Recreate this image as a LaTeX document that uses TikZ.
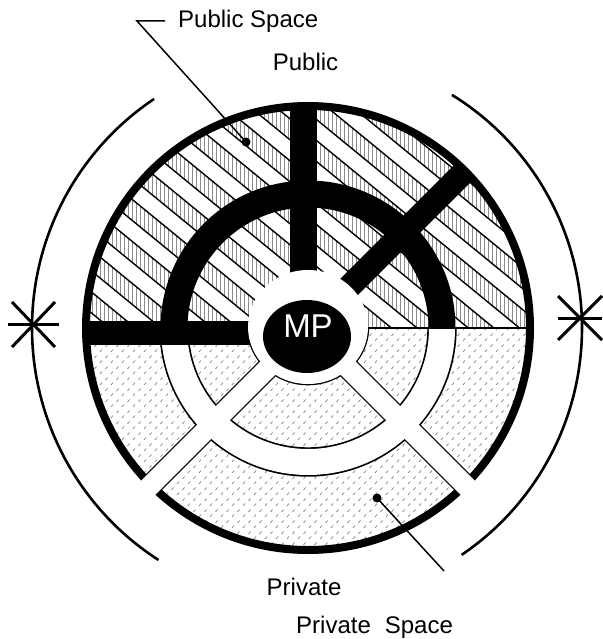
\documentclass[tikz,border=0pt]{standalone}
\usepackage{fontspec}
\setmainfont{Liberation Sans}
\usetikzlibrary{patterns}
\pgfdeclarepatternformonly{stipple}{\pgfpoint{-1pt}{-1pt}}{\pgfpoint{12pt}{12pt}}{\pgfpoint{11pt}{11pt}}{%
  \pgfsetlinewidth{0.7pt}%
  \pgfpathmoveto{\pgfpoint{1pt}{1pt}}\pgfpathlineto{\pgfpoint{3pt}{3.5pt}}%
  \pgfpathmoveto{\pgfpoint{6.5pt}{6pt}}\pgfpathlineto{\pgfpoint{8.5pt}{8.5pt}}%
  \pgfusepath{stroke}}
\begin{document}
\begin{tikzpicture}[x=1pt,y=-1pt,
  vhatch/.style={black!45,line width=0.6pt},
  bandline/.style={black,line width=1.4pt},
  thinarc/.style={black,line width=2.6pt},
  starline/.style={black,line width=3pt},
  leader/.style={black,line width=1.5pt},
  lbl/.style={inner sep=0pt,font=\fontsize{24pt}{28pt}\selectfont},
  mplbl/.style={inner sep=0pt,text=white,font=\fontsize{33pt}{36pt}\selectfont}]
\useasboundingbox (0,0) rectangle (602,639);
\coordinate (C) at (308,328);

% lower half stipple (private)
\begin{scope}
  \clip (70,328) rectangle (550,570);
  \fill[pattern=stipple,pattern color=black!50] (C) circle[radius=222];
\end{scope}

% upper half hatching (public)
\begin{scope}
  \clip (70,90) rectangle (550,328);
  \clip (C) circle[radius=222];
  \foreach \x in {84,88,...,532} \draw[vhatch] (\x,100) -- (\x,330);
  \foreach \c in {-392,-350,...,300}
    \fill[white] (70,{70*0.82+\c}) -- (550,{550*0.82+\c}) -- (550,{550*0.82+\c+21}) -- (70,{70*0.82+\c+21}) -- cycle;
  \foreach \c in {-392,-371,...,300}
    \draw[bandline] (70,{70*0.82+\c}) -- (550,{550*0.82+\c});
\end{scope}

% lower roads: black outlines
\begin{scope}
  \clip (70,328) rectangle (550,570);
  \clip (C) circle[radius=219];
  \draw[line width=29.4pt] (C) ++(0:134) arc[start angle=0,end angle=180,radius=134];
  \draw[line width=22.4pt] (C) -- ++(45:240);
  \draw[line width=22.4pt] (C) -- ++(135:240);
  \fill (308,327) ellipse[x radius=61.3,y radius=58.3];
\end{scope}

% rim
\draw[line width=8pt] (C) circle[radius=222];

% lower roads: white
\begin{scope}
  \clip (70,328) rectangle (550,580);
  \draw[white,line width=26pt] (C) ++(0:134) arc[start angle=0,end angle=180,radius=134];
  \draw[white,line width=20pt] (C) -- ++(45:240);
  \draw[white,line width=20pt] (C) -- ++(135:240);
\end{scope}

% upper black roads
\begin{scope}
  \clip (C) circle[radius=222];
  \fill (290,100) rectangle (317,330);
  \draw[line width=24pt] (C) -- ++(-45:240);
  \fill (80,321) rectangle (300,345);
  \draw[line width=27pt] (C) ++(180:134) arc[start angle=180,end angle=360,radius=134];
\end{scope}

% boundary line public/private on the right
\coordinate (hl1) at (365,328);
\coordinate (hl2) at (528,328);
\draw[line width=1.5pt] (hl1) -- (hl2);

% MP
\fill[white] (308,327) ellipse[x radius=60,y radius=57];
\fill (307,336.5) ellipse[x radius=44,y radius=36.5];
\node[mplbl] (mp) at (308,326) {MP};

% outer arcs
\draw[thinarc] (C) ++(122.8:276) arc[start angle=122.8,end angle=236.1,radius=276];
\draw[thinarc] (C) ++(-58.3:274) arc[start angle=-58.3,end angle=55.9,radius=274];

% asterisks
\draw[starline] (8,324) -- (59,324);
\draw[starline] (12,302) -- (55,347);
\draw[starline] (12,347) -- (55,302);
\draw[starline] (558,318) -- (602,318);
\draw[starline] (558,296) -- (602,340);
\draw[starline] (558,340) -- (602,296);

% labels
\node[lbl,anchor=base west] (ps) at (178,28) {Public Space};
\node[lbl,anchor=base] (pub) at (305.5,71) {Public};
\node[lbl,anchor=base west] (pri) at (266.5,595) {Private};
\node[lbl,anchor=base west] (prs) at (296,633) {Private\hspace{14pt}Space};

% leaders
\coordinate (pe) at (165,21);
\coordinate (pk) at (137,21);
\coordinate (pd) at (246,142);
\draw[leader] (pe) -- (pk) -- (pd);
\fill (pd) circle[radius=4.5];
\coordinate (qd) at (377,498);
\coordinate (qe) at (444,571);
\draw[leader] (qd) -- (qe);
\fill (qd) circle[radius=4.5];
\end{tikzpicture}
\end{document}
